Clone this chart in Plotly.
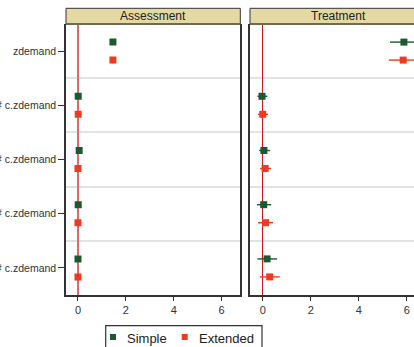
import plotly.graph_objects as go

# ---- data ----
terms = ["zdemand", "1.group # c.zdemand", "2.group # c.zdemand",
         "3.group # c.zdemand", "4.group # c.zdemand"]
panels = ["Assessment", "Treatment"]
models = ["Simple", "Extended"]

# Assessment panel
assess_simple = [1.46, 0.01, 0.05, 0.01, 0.00]
assess_simple_lo = [1.40, -0.04, 0.00, -0.04, -0.05]
assess_simple_hi = [1.52, 0.06, 0.10, 0.06, 0.05]
assess_ext = [1.46, 0.01, 0.00, 0.00, 0.00]
assess_ext_lo = [1.40, -0.04, -0.05, -0.05, -0.05]
assess_ext_hi = [1.52, 0.06, 0.05, 0.05, 0.05]

# Treatment panel
treat_simple = [5.88, -0.03, 0.05, 0.04, 0.18]
treat_simple_lo = [5.30, -0.22, -0.15, -0.24, -0.22]
treat_simple_hi = [6.46, 0.19, 0.30, 0.35, 0.60]
treat_ext = [5.85, 0.00, 0.10, 0.12, 0.29]
treat_ext_lo = [5.25, -0.20, -0.11, -0.20, -0.12]
treat_ext_hi = [6.45, 0.22, 0.35, 0.43, 0.71]

x_ticks = [0, 2, 4, 6]

GREEN = "#1b5a2f"
RED = "#ee3b1f"
COLORS = [GREEN, RED]
FONT = "Liberation Sans, Arial, sans-serif"
offset = 0.166  # vertical dodge between the two models (in category units)

fig = go.Figure()

def add(est, lo, hi, color, name, xa, ya, dodge):
    ys = [i + dodge for i in range(len(terms))]
    fig.add_trace(go.Scatter(
        x=est, y=ys, mode="markers", name=name, showlegend=False,
        marker=dict(symbol="square", size=7, color=color),
        error_x=dict(type="data", symmetric=False,
                     array=[h - e for h, e in zip(hi, est)],
                     arrayminus=[e - l for e, l in zip(est, lo)],
                     color=color, thickness=1.4, width=0),
        xaxis=xa, yaxis=ya, legendgroup=name))

add(assess_simple, assess_simple_lo, assess_simple_hi, GREEN, models[0], "x", "y", -offset)
add(assess_ext, assess_ext_lo, assess_ext_hi, RED, models[1], "x", "y", offset)
add(treat_simple, treat_simple_lo, treat_simple_hi, GREEN, models[0], "x2", "y2", -offset)
add(treat_ext, treat_ext_lo, treat_ext_hi, RED, models[1], "x2", "y2", offset)

W, H = 414, 347
ML, MR, MT, MB = 66, 0, 24, 52
pw = W - ML - MR
ph = H - MT - MB
d1 = (240.3 - ML) / pw
d2 = (250 - ML) / pw

def px(x):  # pixel -> paper x
    return (x - ML) / pw

def py(y):  # pixel -> paper y
    return (H - MB - y) / ph

xcommon = dict(tickvals=x_ticks, ticks="outside", ticklen=4, tickwidth=1,
               tickcolor="#333", showline=True, linecolor="#333", linewidth=1.5,
               showgrid=False, zeroline=True, automargin=False,
               tickfont=dict(size=11, color="#333"))
fig.update_layout(
    width=W, height=H, margin=dict(l=ML, r=MR, t=MT, b=MB, autoexpand=False),
    plot_bgcolor="white", paper_bgcolor="white",
    font=dict(family=FONT, color="#333"),
    showlegend=False,
    xaxis=dict(domain=[0, d1], range=[-0.5, 6.78], zerolinecolor="#dd6a6a",
               zerolinewidth=2, **xcommon),
    xaxis2=dict(domain=[d2, 1], range=[-0.53, 6.3], zerolinecolor="#d01818",
                zerolinewidth=1.4, **xcommon),
    yaxis=dict(range=[4.5, -0.5], tickvals=list(range(len(terms))), ticktext=terms,
               ticks="outside", ticklen=6, tickcolor="#333", showline=True,
               linecolor="#333", linewidth=1.5, mirror=True, showgrid=False,
               zeroline=False, automargin=False, tickfont=dict(size=10.5, color="#333"),
               minor=dict(tickvals=[0.5, 1.5, 2.5, 3.5], showgrid=True,
                          gridcolor="#e2e2e2", gridwidth=2, ticks="")),
    yaxis2=dict(range=[4.5, -0.5], anchor="x2", matches="y", showticklabels=False,
                ticks="", showline=True, linecolor="#333", linewidth=1.5,
                showgrid=False, zeroline=False, automargin=False,
                minor=dict(tickvals=[0.5, 1.5, 2.5, 3.5], showgrid=True,
                           gridcolor="#e2e2e2", gridwidth=2, ticks="")),
)

# header strips
strip_top = 1 + (MT - 8.3) / ph
for xref, title, cx in [("x domain", panels[0], 0.5), ("x2 domain", panels[1], (338 - 250) / (W - 250))]:
    x1 = 1.06 if xref.startswith("x2") else 1
    fig.add_shape(type="rect", xref=xref, yref="paper", x0=0, x1=x1,
                  y0=1, y1=strip_top, fillcolor="#e4d9a3",
                  line=dict(color="#333", width=1), layer="above")
    fig.add_shape(type="line", xref=xref, yref="paper", x0=0, x1=x1,
                  y0=1, y1=1, line=dict(color="#6e6a58", width=2), layer="above")
    fig.add_annotation(text=title, xref=xref, yref="paper", x=cx, y=(1 + strip_top) / 2,
                       showarrow=False, font=dict(size=12, color="#222"),
                       xanchor="center", yanchor="middle")

# legend box (bottom edge falls outside the picture, as in the reference)
fig.add_shape(type="rect", xref="paper", yref="paper", x0=px(105.7), x1=px(262),
              y0=py(325.7), y1=py(365), line=dict(color="#333", width=1.2),
              fillcolor="white")
for sym_x, txt_x, name, color in [(113, 125, models[0], COLORS[0]),
                                  (184.7, 197.3, models[1], COLORS[1])]:
    fig.add_shape(type="rect", xref="paper", yref="paper",
                  x0=px(sym_x - 3), x1=px(sym_x + 3), y0=py(334), y1=py(340),
                  fillcolor=color, line=dict(width=0))
    fig.add_annotation(text=name, xref="paper", yref="paper", x=px(txt_x), y=py(338.5),
                       showarrow=False, xanchor="left", yanchor="middle",
                       font=dict(size=13, color="#222"))

fig.write_html("out.html")
